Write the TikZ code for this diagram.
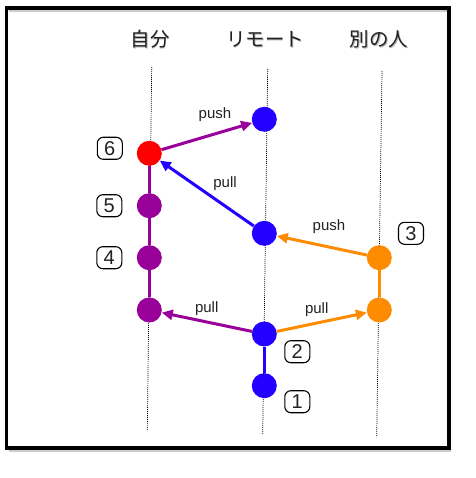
\documentclass[tikz,border=0pt]{standalone}
\usepackage{fontspec}
\setmainfont{Liberation Sans}
\newfontfamily\jpfont{Noto Sans CJK JP}
\usetikzlibrary{arrows.meta}
\definecolor{cblue}{RGB}{35,0,255}
\definecolor{cpurple}{RGB}{153,0,153}
\definecolor{corange}{RGB}{255,140,0}
\definecolor{cred}{RGB}{255,0,0}
\definecolor{ctext}{RGB}{34,34,34}
\tikzset{
  dot/.style={circle,inner sep=0pt,minimum size=25pt,fill=#1},
  link/.style={line width=3pt,draw=#1},
  arr/.style={line width=3pt,draw=#1,-{Triangle[length=11pt,width=10pt]},fill=#1},
  lane/.style={line width=0.7pt,dash pattern=on 1pt off 1pt},
  numbox/.style={draw,rounded corners=6pt,line width=1.1pt,minimum width=25pt,minimum height=22pt,inner sep=0pt,font=\fontsize{20}{20}\selectfont,text=ctext},
  elab/.style={font=\fontsize{15}{15}\selectfont,text=ctext,inner sep=0pt},
  head/.style={font=\jpfont\fontsize{19.5}{19.5}\selectfont,text=ctext,inner sep=0pt},
  headshadow/.style={font=\jpfont\fontsize{19.5}{19.5}\selectfont,text=black!30,inner sep=0pt},
}
\begin{document}
\begin{tikzpicture}[x=1pt,y=-1pt]
\useasboundingbox (0,0) rectangle (475,478);
\fill[white] (0,0) rectangle (475,478);
% frame shadow + frame
\draw[black!20,line width=2pt] (9,11) -- (447,11);
\draw[black!20,line width=2pt] (9,451) -- (451,451);
\draw[line width=3.5pt] (6.5,8) rectangle (449,448);
% headers
\node[headshadow] (hs1) at (150.8,40.5) {自分};
\node[headshadow] (hs2) at (265.8,40.5) {リモート};
\node[headshadow] (hs3) at (379.8,40.5) {別の人};
\node[head] (h1) at (150,39) {自分};
\node[head] (h2) at (265,39) {リモート};
\node[head] (h3) at (379,39) {別の人};
% lanes
\coordinate (la) at (151.7,67);
\coordinate (lA) at (147.3,431);
\coordinate (lb) at (267.7,69);
\coordinate (lB) at (262.7,434);
\coordinate (lc) at (382,71);
\coordinate (lC) at (376.7,437);
\draw[lane] (la) -- (lA);
\draw[lane] (lb) -- (lB);
\draw[lane] (lc) -- (lC);
% commits
\node[dot=cblue] (r1) at (264.3,385.7) {};
\node[dot=cblue] (r2) at (264.3,334) {};
\node[dot=cblue] (r3) at (264.3,233.3) {};
\node[dot=cblue] (r4) at (264.3,119.3) {};
\node[dot=cpurple] (m1) at (149.3,310) {};
\node[dot=cpurple] (m4) at (149.3,257.7) {};
\node[dot=cpurple] (m5) at (149.3,205.7) {};
\node[dot=cred] (m6) at (149.3,153.3) {};
\node[dot=corange] (o1) at (379.3,310) {};
\node[dot=corange] (o3) at (379.3,257.7) {};
% links
\draw[link=cblue] (r1) -- (r2);
\draw[link=cpurple] (m1) -- (m4);
\draw[link=cpurple] (m4) -- (m5);
\draw[link=cpurple] (m5) -- (m6);
\draw[link=corange] (o1) -- (o3);
\draw[arr=cpurple] (r2) -- (m1);
\draw[arr=corange] (r2) -- (o1);
\draw[arr=corange] (o3) -- (r3);
\draw[arr=cblue] (r3) -- (m6);
\draw[arr=cpurple] (m6) -- (r4);
% edge labels
\node[elab] (t1) at (215,115) {push};
\node[elab] (t2) at (225,184) {pull};
\node[elab] (t3) at (329,226.7) {push};
\node[elab] (t4) at (206.7,308.3) {pull};
\node[elab] (t5) at (316.7,310) {pull};
% numbers
\node[numbox] (n6) at (109.8,148.3) {6};
\node[numbox] (n5) at (109.3,205.7) {5};
\node[numbox] (n4) at (109.3,257.7) {4};
\node[numbox] (n3) at (411,233.3) {3};
\node[numbox] (n2) at (297.3,351.7) {2};
\node[numbox] (n1) at (297.3,401.7) {1};
\end{tikzpicture}
\end{document}
